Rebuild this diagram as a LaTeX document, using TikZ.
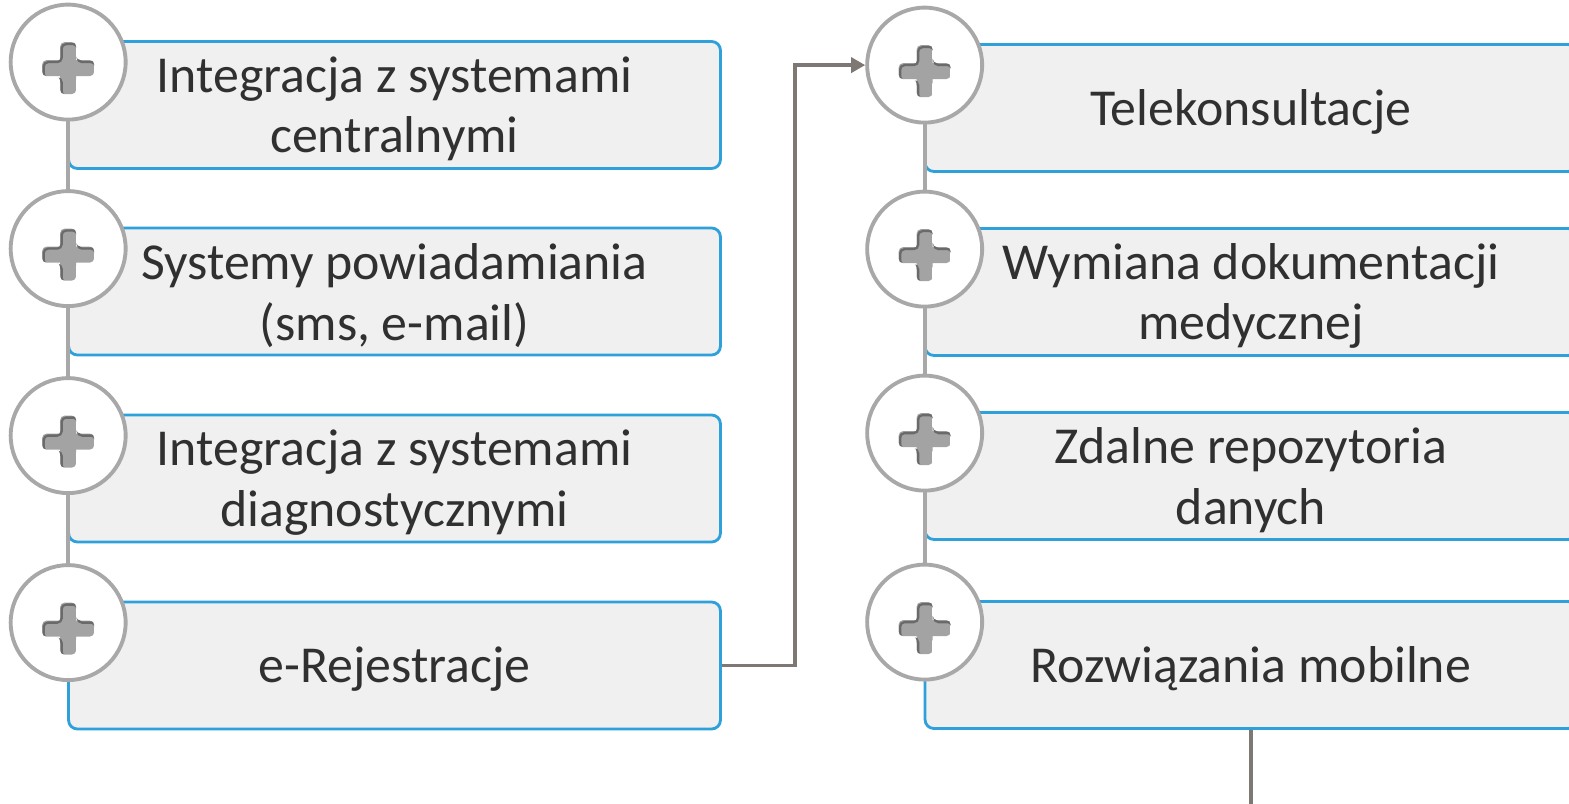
\documentclass[tikz,border=0pt]{standalone}
\usepackage{fontspec}
\setmainfont{Carlito}
\usetikzlibrary{arrows.meta}
\definecolor{boxblue}{HTML}{2EA0DA}
\definecolor{boxfill}{HTML}{F0F0F0}
\definecolor{ringgray}{HTML}{A8A8A8}
\definecolor{linkgray}{HTML}{7D7873}
\definecolor{txtgray}{HTML}{303030}
\definecolor{plusfill}{HTML}{A3A3A3}
\definecolor{plusshade}{HTML}{6A6A6A}
\newcommand{\crosspath}{(-8,-26) -- (8,-26) -- (8,-8) -- (26,-8) -- (26,8) -- (8,8) -- (8,26) -- (-8,26) -- (-8,8) -- (-26,8) -- (-26,-8) -- (-8,-8) -- cycle}
\newcommand{\plusmark}[1]{%
  \begin{scope}[shift={(#1)},shift={(0,6)}]
    \clip[rounded corners=2.5pt] \crosspath;
    \fill[plusfill] \crosspath;
    \draw[plusshade,line width=1.3pt,rounded corners=2.5pt,shift={(1.5,2)}] \crosspath;
  \end{scope}}

\begin{document}
\begin{tikzpicture}[x=0.02cm,y=-0.02cm]
  \tikzset{item/.style={draw=boxblue,fill=boxfill,line width=1.6pt,rounded corners=5pt,
             minimum width=13.04cm,minimum height=2.54cm,
             label={[itemtext]center:#1}},
           itemtext/.style={align=center,text=txtgray,yshift=-0.08cm,
             font=\fontsize{29.5}{34.5}\selectfont},
           knob/.style={circle,draw=ringgray,fill=white,line width=2.2pt,minimum size=2.3cm,inner sep=0pt},
           spine/.style={draw=ringgray,line width=2.2pt},
           link/.style={draw=linkgray,line width=2.1pt}}
  \useasboundingbox (0,0) rectangle (1569,804);
  % left column
  \node[item={Integracja z systemami\\centralnymi}] (l1) at (394.5,105) {};
  \node[item={Systemy powiadamiania\\(sms, e-mail)}] (l2) at (394.5,291.5) {};
  \node[item={Integracja z systemami\\diagnostycznymi}] (l3) at (394.5,478.5) {};
  \node[item={e-Rejestracje}] (l4) at (394.5,665.5) {};
  % right column
  \node[item={Telekonsultacje}] (r1) at (1251,108) {};
  \node[item={Wymiana dokumentacji\\medycznej}] (r2) at (1251,292) {};
  \node[item={Zdalne repozytoria\\danych}] (r3) at (1251,476) {};
  \node[item={Rozwiązania mobilne}] (r4) at (1251,665) {};
  \foreach \b/\p in {l1/lc1,l2/lc2,l3/lc3,l4/lc4,r1/rc1,r2/rc2,r3/rc3,r4/rc4}
    \coordinate (\p) at ([shift={(1,22)}]\b.north west);
  \draw[spine] (lc1) -- (lc2) -- (lc3) -- (lc4);
  \draw[spine] (rc1) -- (rc2) -- (rc3) -- (rc4);
  \foreach \p in {lc1,lc2,lc3,lc4,rc1,rc2,rc3,rc4} {
    \node[knob] (k\p) at (\p) {};
    \plusmark{\p}
  }
  \draw[link,-{Triangle[length=8pt,width=8.5pt]}] (l4.east) -- ++(73,0) |- (krc1.west);
  \coordinate (tail) at (1251,804);
  \draw[link] (r4.south) -- (tail);
\end{tikzpicture}
\end{document}
